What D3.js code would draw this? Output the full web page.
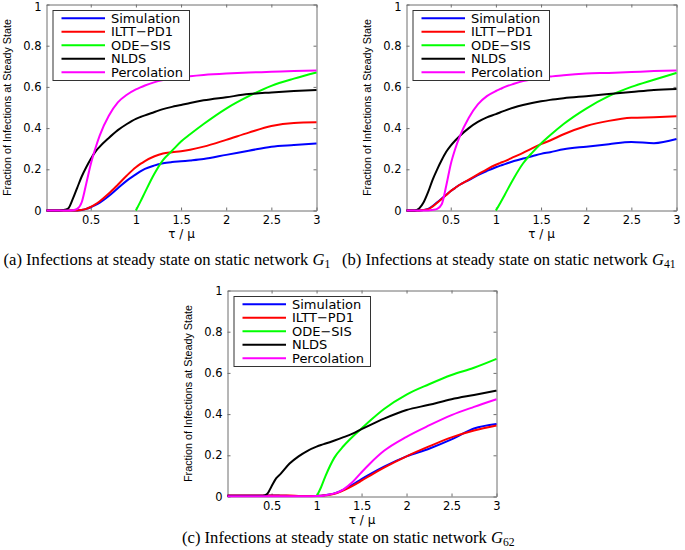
<!DOCTYPE html>
<html><head><meta charset="utf-8">
<script src="https://cdn.jsdelivr.net/npm/d3@7"></script>
<style>body{margin:0;background:#fff}svg{display:block}</style>
</head><body><svg id="chart" width="685" height="550"></svg>
<script>
// ---------- data ----------
const tau = [0.01,0.1,0.15,0.2,0.25,0.3,0.35,0.4,0.45,0.5,0.55,0.6,0.7,0.8,0.9,1.0,1.05,1.1,1.2,1.3,1.4,1.5,1.6,1.75,2.0,2.25,2.5,2.75,3.0];
const seriesNames = ["Simulation","ILTT\u2212PD1","ODE\u2212SIS","NLDS","Percolation"];
const xTicks = [0.5,1,1.5,2,2.5,3];
const xTickLabels = ["0.5","1","1.5","2","2.5","3"];
const yTicks = [0,0.2,0.4,0.6,0.8,1];
const yTickLabels = ["0","0.2","0.4","0.6","0.8","1"];
const captionPrefixes = ["(a) Infections at steady state on static network ","(b) Infections at steady state on static network ","(c) Infections at steady state on static network "];
const captionSubs = ["1","41","62"];
const N = null;

// panel (a) G1
const simA  = [0,0,0,0,0,0,0,0.002,0.008,0.016,0.026,0.038,0.07,0.108,0.145,0.175,0.19,0.202,0.218,0.229,0.235,0.239,0.243,0.25,0.27,0.29,0.31,0.318,0.325];
const ilttA = [0,0,0,0,0,0,0,0.003,0.008,0.018,0.03,0.045,0.082,0.125,0.17,0.21,0.226,0.24,0.262,0.277,0.283,0.288,0.295,0.31,0.343,0.378,0.41,0.425,0.428];
const odeA  = [N,N,N,N,N,N,N,N,N,N,N,N,N,N,N,0,0.043,0.088,0.175,0.245,0.29,0.335,0.37,0.42,0.495,0.555,0.605,0.64,0.67];
const nldsA = [0,0,0,0.002,0.01,0.055,0.11,0.165,0.21,0.25,0.285,0.31,0.352,0.39,0.42,0.445,0.454,0.462,0.477,0.492,0.503,0.512,0.522,0.535,0.55,0.565,0.573,0.58,0.585];
const percA = [0,0,0,0,0,0.001,0.008,0.04,0.13,0.225,0.3,0.365,0.46,0.525,0.562,0.588,0.598,0.607,0.622,0.633,0.641,0.647,0.652,0.658,0.665,0.67,0.673,0.677,0.68];

// panel (b) G41
const simB  = [0,0,0,0.002,0.008,0.022,0.04,0.058,0.076,0.095,0.11,0.125,0.148,0.172,0.192,0.21,0.218,0.225,0.24,0.252,0.263,0.275,0.283,0.297,0.31,0.322,0.333,0.327,0.347];
const ilttB = [0,0,0,0.002,0.006,0.02,0.038,0.056,0.075,0.095,0.11,0.125,0.15,0.175,0.2,0.222,0.231,0.24,0.26,0.28,0.302,0.322,0.34,0.37,0.41,0.435,0.45,0.453,0.457];
const odeB  = [N,N,N,N,N,N,N,N,N,N,N,N,N,N,N,0,0.038,0.078,0.158,0.228,0.28,0.325,0.365,0.42,0.495,0.555,0.6,0.635,0.668];
const nldsB = [0,0,0.01,0.04,0.09,0.15,0.2,0.245,0.285,0.315,0.34,0.362,0.4,0.43,0.452,0.468,0.477,0.485,0.5,0.512,0.522,0.53,0.537,0.545,0.555,0.565,0.575,0.585,0.59];
const percB = [0,0,0,0,0,0.003,0.008,0.03,0.12,0.225,0.3,0.36,0.45,0.515,0.555,0.58,0.59,0.6,0.615,0.628,0.637,0.645,0.65,0.657,0.665,0.668,0.672,0.677,0.68];

// panel (c) G62
const simC  = [0.005,0.005,0.005,0.005,0.005,0.005,0.005,0.005,0.005,0.005,0.005,0.004,0.003,0.002,0.002,0.003,0.004,0.007,0.015,0.033,0.058,0.085,0.11,0.145,0.195,0.232,0.277,0.33,0.352];
const ilttC = [0.005,0.005,0.005,0.005,0.005,0.005,0.005,0.005,0.005,0.005,0.005,0.005,0.005,0.003,0.002,0.003,0.004,0.006,0.013,0.03,0.052,0.077,0.103,0.14,0.195,0.243,0.287,0.32,0.345];
const odeC  = [N,N,N,N,N,N,N,N,N,N,N,N,N,N,N,0,0.045,0.1,0.19,0.245,0.29,0.33,0.37,0.425,0.495,0.545,0.59,0.625,0.668];
const nldsC = [0.003,0.003,0.003,0.003,0.003,0.003,0.003,0.003,0.012,0.05,0.088,0.11,0.16,0.195,0.222,0.242,0.25,0.257,0.272,0.288,0.305,0.327,0.348,0.378,0.42,0.445,0.472,0.493,0.514];
const percC = [0.001,0.001,0.001,0.001,0.001,0.001,0.001,0.001,0.001,0.001,0.001,0.001,0.001,0.001,0.001,0.002,0.003,0.006,0.015,0.035,0.07,0.118,0.163,0.222,0.29,0.345,0.395,0.435,0.472];

// ---------- layout / style ----------
const colors = ["#0000ff","#ff0000","#00ff00","#000000","#ff00ff"];
const panels = [
  {x0:46.5,  x1:316.5, y0:4.5,   y1:210.5, series:[simA,ilttA,odeA,nldsA,percA], capX:3.5,   capY:265},
  {x0:406.5, x1:676.5, y0:4.5,   y1:210.5, series:[simB,ilttB,odeB,nldsB,percB], capX:342,   capY:265},
  {x0:227.5, x1:496.5, y0:290.5, y1:496.5, series:[simC,ilttC,odeC,nldsC,percC], capX:182,   capY:542.5}
];
const svg = d3.select("#chart");
const axisColor = "#6e6e6e";
const tickFont = "DejaVu Sans, sans-serif";

const capTexts = [];
panels.forEach((p, pi) => {
  const x = d3.scaleLinear().domain([0.01, 3]).range([p.x0, p.x1]);
  const y = d3.scaleLinear().domain([0, 1]).range([p.y1, p.y0]);
  const g = svg.append("g");

  // axes
  const styleAxis = sel => {
    sel.select(".domain").attr("stroke", axisColor).attr("stroke-width", 1);
    sel.selectAll(".tick line").attr("stroke", axisColor);
    sel.selectAll(".tick text").attr("fill", "#000").style("font-family", tickFont).style("font-size", "11.5px");
  };
  g.append("g").attr("transform", `translate(0,${p.y1})`)
    .call(d3.axisBottom(x).tickValues(xTicks).tickFormat((d,i)=>xTickLabels[i]).tickSizeInner(-3).tickSizeOuter(0).tickPadding(5))
    .call(styleAxis);
  g.append("g").attr("transform", `translate(0,${p.y0})`)
    .call(d3.axisTop(x).tickValues(xTicks).tickFormat("").tickSizeInner(-3).tickSizeOuter(0))
    .call(styleAxis);
  const yAx = g.append("g").attr("transform", `translate(${p.x0},0)`)
    .call(d3.axisLeft(y).tickValues(yTicks).tickFormat((d,i)=>yTickLabels[i]).tickSizeInner(-3).tickSizeOuter(0).tickPadding(5))
    .call(styleAxis);
  // keep the top label inside the picture
  if (p.y0 < 10) {
    yAx.selectAll(".tick text").filter(d => d === 1).attr("y", 2.5);
  }
  g.append("g").attr("transform", `translate(${p.x1},0)`)
    .call(d3.axisRight(y).tickValues(yTicks).tickFormat("").tickSizeInner(-3).tickSizeOuter(0))
    .call(styleAxis);

  // lines
  const line = d3.line()
    .defined((d)=> d[1] !== null)
    .x(d => x(d[0])).y(d => y(d[1]))
    .curve(d3.curveMonotoneX);
  p.series.forEach((vals, si) => {
    g.append("path")
      .datum(tau.map((t,i)=>[t, vals[i]]))
      .attr("fill","none").attr("stroke", colors[si]).attr("stroke-width", 2)
      .attr("stroke-linejoin","round")
      .attr("d", line);
  });

  // axis labels
  g.append("text")
    .attr("x", (p.x0+p.x1)/2).attr("y", p.y1 + 27)
    .attr("text-anchor","middle")
    .style("font-family", tickFont).style("font-size","12px")
    .text("\u03C4 / \u03BC");
  g.append("text")
    .attr("transform", `translate(${p.x0-36},${(p.y0+p.y1)/2}) rotate(-90)`)
    .attr("text-anchor","middle")
    .style("font-family","Liberation Sans, Arial, sans-serif").style("font-size","10.8px")
    .text("Fraction of Infections at Steady State");

  // legend
  const lg = g.append("g").attr("transform", `translate(${p.x0+6.5},${p.y0+6})`);
  lg.append("rect").attr("x",0).attr("y",0).attr("width",136.5).attr("height",70)
    .attr("fill","#fff").attr("stroke","#333").attr("stroke-width",1);
  seriesNames.forEach((nm, si) => {
    const yy = 7.8 + si*13.5;
    lg.append("line").attr("x1",8.5).attr("x2",52).attr("y1",yy).attr("y2",yy)
      .attr("stroke", colors[si]).attr("stroke-width",2);
    lg.append("text").attr("x",58).attr("y",yy).attr("dy","0.36em")
      .style("font-family", tickFont).style("font-size","13px").text(nm);
  });

  // caption
  const ct = svg.append("text").attr("x", p.capX).attr("y", p.capY)
    .style("font-family","Liberation Serif, Times New Roman, serif").style("font-size","15px");
  ct.append("tspan").text(captionPrefixes[pi]);
  ct.append("tspan").style("font-style","italic").text("G");
  ct.append("tspan").attr("dy", 3).style("font-size","70%").text(captionSubs[pi]);
  capTexts.push(ct);
});
// scale caption font so caption (a) width matches the reference
const w0 = capTexts[0].node().getBBox().width;
const fs = 15 * 327 / w0;
capTexts.forEach(ct => ct.style("font-size", fs + "px"));
</script></body></html>
